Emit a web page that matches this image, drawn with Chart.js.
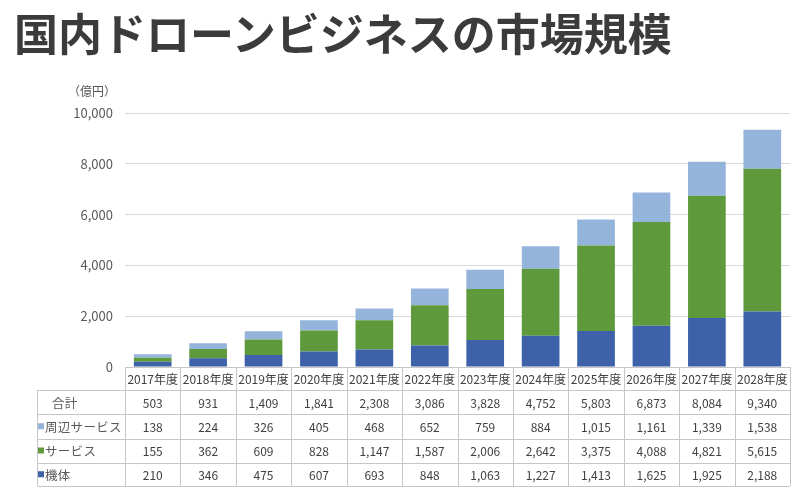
<!DOCTYPE html>
<html><head><meta charset="utf-8">
<script src="https://cdn.jsdelivr.net/npm/chart.js@4.4.1/dist/chart.umd.min.js"></script>
<style>
html,body{margin:0;padding:0;background:#fff;}
#wrap{position:relative;width:798px;height:495px;overflow:hidden;}
#title{position:absolute;left:14px;top:2px;font-family:"Noto Sans CJK JP";font-weight:700;font-size:44px;color:#3b3b3b;line-height:60px;white-space:nowrap;}
canvas{position:absolute;left:0;top:0;}
</style></head><body>
<div id="wrap"><canvas id="c" width="798" height="495"></canvas><div id="title">国内ドローンビジネスの市場規模</div></div>
<script>
const categories = ['2017年度','2018年度','2019年度','2020年度','2021年度','2022年度','2023年度','2024年度','2025年度','2026年度','2027年度','2028年度'];
const kitai = [210,346,475,607,693,848,1063,1227,1413,1625,1925,2188];
const service = [155,362,609,828,1147,1587,2006,2642,3375,4088,4821,5615];
const shuhen = [138,224,326,405,468,652,759,884,1015,1161,1339,1538];
const totals = [503,931,1409,1841,2308,3086,3828,4752,5803,6873,8084,9340];
const yTicks = [0,2000,4000,6000,8000,10000];
const unitLabel = '（億円）';
const seriesNames = ['周辺サービス','サービス','機体'];
const totalName = '合計';
const colors = {kitai:'#3d62aa', service:'#5e9a3c', shuhen:'#95b4db'};

const FONT = '"Noto Sans CJK JP", sans-serif';
const fmt = v => v.toLocaleString('en-US');

const tablePlugin = {
  id: 'tablePlugin',
  afterDraw(chart) {
    const ctx = chart.ctx;
    const a = chart.chartArea;
    const n = categories.length;
    const w = (a.right - a.left) / n;
    const rows = [a.bottom, 390, 414, 438.5, 462.5, 486];
    const tableLeft = 37.5;
    ctx.save();
    ctx.strokeStyle = '#c6c6c6';
    ctx.lineWidth = 1;
    ctx.beginPath();
    ctx.moveTo(a.left, Math.round(rows[0]) + 0.5);
    ctx.lineTo(a.right, Math.round(rows[0]) + 0.5);
    for (let r = 1; r < rows.length; r++) {
      const y = Math.round(rows[r]) + 0.5;
      ctx.moveTo(tableLeft, y); ctx.lineTo(a.right, y);
    }
    for (let i = 0; i <= n; i++) {
      const x = Math.round(a.left + i * w) + 0.5;
      ctx.moveTo(x, rows[0]); ctx.lineTo(x, rows[5]);
    }
    ctx.moveTo(tableLeft, rows[1]); ctx.lineTo(tableLeft, rows[5]);
    ctx.stroke();

    ctx.textAlign = 'center';
    ctx.textBaseline = 'middle';
    ctx.fillStyle = '#404040';
    ctx.font = '12px ' + FONT;
    const data = [totals, shuhen, service, kitai];
    for (let i = 0; i < n; i++) {
      const cx = a.left + (i + 0.5) * w;
      ctx.fillText(categories[i], cx, (rows[0] + rows[1]) / 2 + 1);
      for (let r = 0; r < 4; r++) {
        ctx.fillText(fmt(data[r][i]), cx, (rows[r + 1] + rows[r + 2]) / 2 + 1);
      }
    }
    ctx.textAlign = 'left';
    ctx.fillStyle = '#595959';
    ctx.font = '12.5px ' + FONT;
    if ('letterSpacing' in ctx) ctx.letterSpacing = '0.3px';
    ctx.fillText(totalName, 52, (rows[1] + rows[2]) / 2 + 1);
    const sq = [colors.shuhen, colors.service, colors.kitai];
    for (let r = 0; r < 3; r++) {
      const cy = (rows[r + 2] + rows[r + 3]) / 2;
      ctx.fillStyle = sq[r];
      ctx.fillRect(38, cy - 3, 6, 6);
      ctx.fillStyle = '#595959';
      ctx.fillText(seriesNames[r], 45, cy + 1);
    }
    if ('letterSpacing' in ctx) ctx.letterSpacing = '0px';
    ctx.textAlign = 'right';
    ctx.font = '12px ' + FONT;
    ctx.fillText(unitLabel, 116, 91);
    ctx.restore();
  }
};

new Chart(document.getElementById('c'), {
  type: 'bar',
  data: {
    labels: categories,
    datasets: [
      {label: seriesNames[2], data: kitai, backgroundColor: colors.kitai},
      {label: seriesNames[1], data: service, backgroundColor: colors.service},
      {label: seriesNames[0], data: shuhen, backgroundColor: colors.shuhen}
    ]
  },
  options: {
    responsive: false,
    animation: false,
    devicePixelRatio: 1,
    layout: {padding: {top: 113, bottom: 128, right: 8, left: 0}},
    datasets: {bar: {categoryPercentage: 1.0, barPercentage: 0.68}},
    plugins: {legend: {display: false}, tooltip: {enabled: false}, title: {display: false}},
    scales: {
      x: {stacked: true, display: false},
      y: {
        stacked: true, min: 0, max: 10000,
        afterBuildTicks(s) { s.ticks = yTicks.map(v => ({value: v})); },
        afterFit(s) { s.width = 125; },
        border: {display: false},
        grid: {color: ctx => ctx.tick && ctx.tick.value === 0 ? 'rgba(0,0,0,0)' : '#d9d9d9', drawTicks: false},
        ticks: {padding: 12, color: '#595959', font: {family: FONT, size: 13}, callback: v => fmt(v)}
      }
    }
  },
  plugins: [tablePlugin]
});
</script>
</body></html>
